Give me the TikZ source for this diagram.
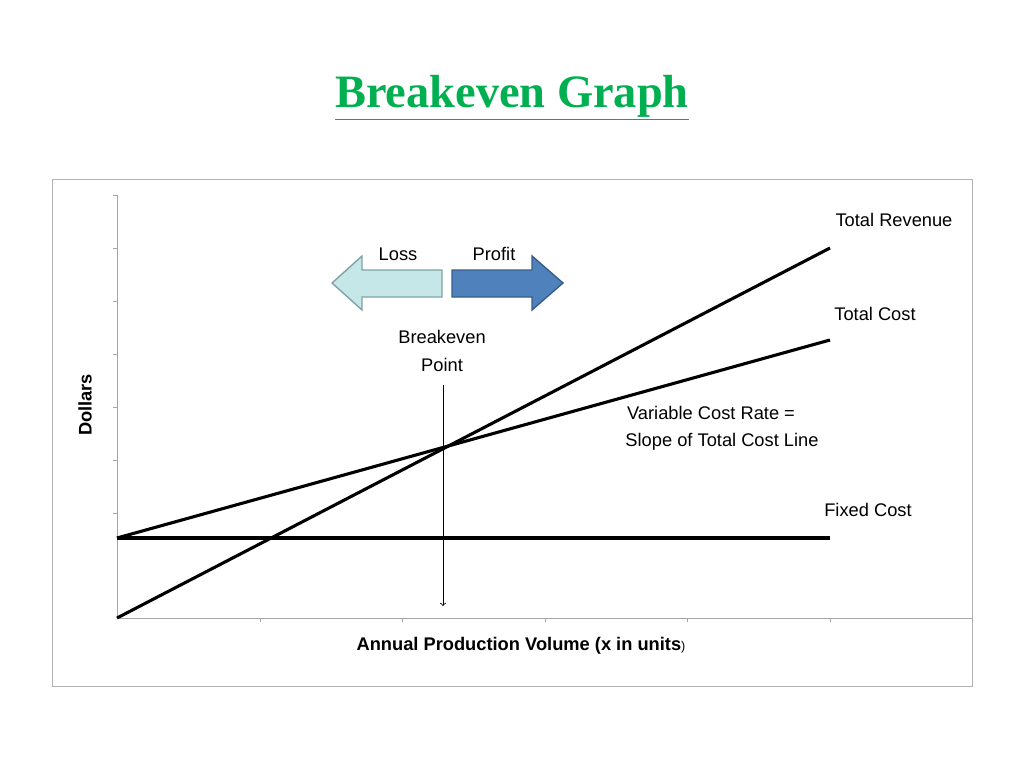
\documentclass[tikz,border=0pt]{standalone}
\usepackage{fontspec}
\setmainfont{Liberation Sans}
\newfontfamily\titlefont{Liberation Serif}
\usetikzlibrary{positioning}
\definecolor{titlegreen}{HTML}{00B050}
\definecolor{lossfill}{HTML}{C6E7E8}
\definecolor{lossdraw}{HTML}{7FA3A6}
\definecolor{profitfill}{HTML}{4F81BD}
\definecolor{profitdraw}{HTML}{385D8A}
\tikzset{
  lbl/.style={font=\fontsize{13}{15.5}\selectfont, align=center, inner sep=0pt},
  graphline/.style={line width=2.2pt},
  tick/.style={gray!70, line width=0.4pt}
}
\begin{document}
\begin{tikzpicture}[x=0.025cm,y=-0.025cm]
	\useasboundingbox (0,0) rectangle (1024,768);
	% title
	\node (title) at (512,98) {\titlefont\bfseries\fontsize{33}{38}\selectfont\color{titlegreen}\underline{Breakeven Graph}};
	% frame and axes
	\draw[gray!60] (52,179) rectangle (972,686);
	\coordinate (o) at (117,618);
	\draw[gray!70] (117,195) -- (o) -- (972,618);
	\foreach \y in {195,248,...,565} \draw[tick] (113,\y) -- (117,\y);
	\foreach \x in {260,402,545,687,830,972} \draw[tick] (\x,618) -- (\x,622);
	% lines
	\coordinate (fc0) at (117,538);
	\coordinate (tr1) at (830,248);
	\coordinate (tc1) at (830,340);
	\coordinate (fc1) at (830,538);
	\draw[graphline] (o) -- (tr1);
	\draw[graphline] (fc0) -- (tc1);
	\draw[graphline] (fc0) -- (fc1);
	% labels
	\node[lbl] (trlbl) at (894,220) {Total Revenue};
	\node[lbl] (tclbl) at (875,314) {Total Cost};
	\node[lbl] (fclbl) at (868,510) {Fixed Cost};
	\node[lbl] (vclbl) at (722,428) {\hspace*{-1.2em}Variable Cost Rate =\\[4pt]Slope of Total Cost Line};
	\node[lbl] (bep) at (442,351) {Breakeven\\[4pt]Point};
	\coordinate (bepend) at (443,606);
	\draw[->, line width=0.6pt] (443,385) -- (bepend);
	\node[lbl] (loss) at (398,254) {Loss};
	\node[lbl] (profit) at (494,254) {Profit};
	\node[lbl, font=\fontsize{13}{15.5}\selectfont\bfseries, rotate=90] (ylbl) at (85,405) {Dollars};
	\node[lbl] (xlbl) at (521,646) {\bfseries Annual Production Volume (x in units{\mdseries\small)}};
	% loss / profit arrows
	\draw[lossdraw, fill=lossfill, line width=1pt] (442,270) -- (362,270) -- (362,256) -- (332,283) -- (362,310) -- (362,297) -- (442,297) -- cycle;
	\draw[profitdraw, fill=profitfill, line width=1pt] (452,270) -- (532,270) -- (532,256) -- (563,283) -- (532,310) -- (532,297) -- (452,297) -- cycle;
\end{tikzpicture}
\end{document}
